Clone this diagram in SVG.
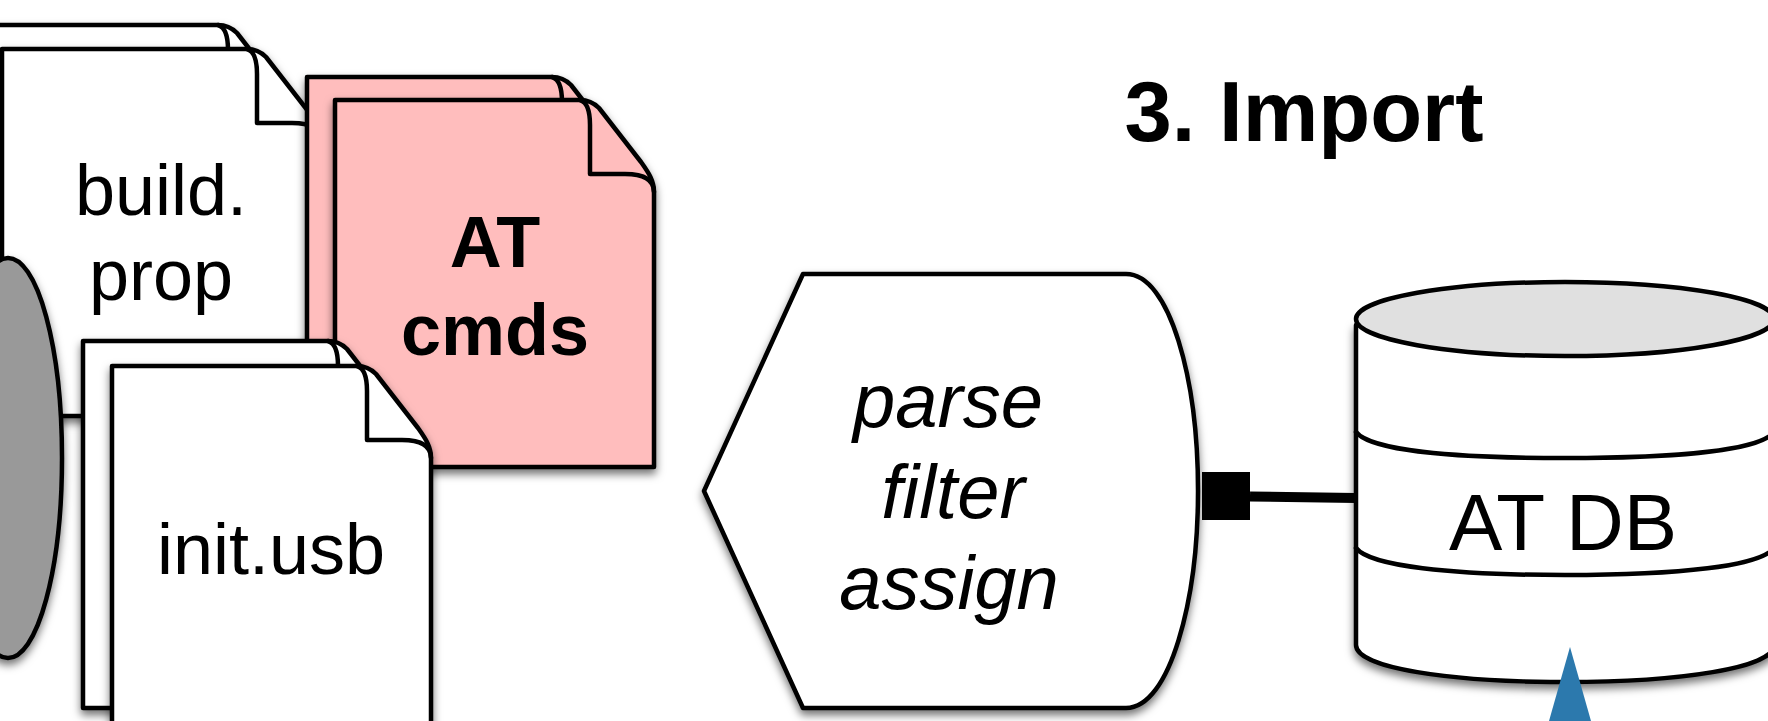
<svg xmlns="http://www.w3.org/2000/svg" xmlns:xlink="http://www.w3.org/1999/xlink" width="1768" height="721" viewBox="0 0 1768 721">
<style>
.s{stroke:#000;stroke-width:4.5;stroke-linejoin:round;stroke-linecap:round}
.t{font-family:"Liberation Sans",Arial,Helvetica,sans-serif;font-size:72px;fill:#000;text-anchor:middle}
.b{font-weight:700}
.i{font-style:italic;font-size:76px}
.w{fill:#fff}
.p{fill:#ffbdbd}
.n{fill:none}
</style>
<defs>
<filter id="sh" x="-15%" y="-15%" width="130%" height="130%"><feDropShadow dx="0" dy="5" stdDeviation="4.5" flood-color="#000" flood-opacity="0.55"/></filter>
<path id="body" d="M0,0H245C252,0 258,2 264,8L306,62C313,72 319,80 319,92V367H0Z"/>
<path id="fold" d="M245,0C252,2 255,10 255,25V74H290C305,74 319,78 319,92"/>
</defs>
<rect width="1768" height="721" fill="#fff"/>
<g id="build-prop">
<g transform="translate(-27,25)"><use href="#body" class="s w" filter="url(#sh)"/><use href="#fold" class="s n"/></g>
<g transform="translate(2,49)"><use href="#body" class="s w" filter="url(#sh)"/><use href="#fold" class="s n"/></g>
<text class="t" x="161" y="215">build.</text>
<text class="t" x="161" y="300">prop</text>
</g>
<g id="at-cmds">
<g transform="translate(307,77)"><use href="#body" class="s p" filter="url(#sh)"/><use href="#fold" class="s n"/></g>
<g transform="translate(335,100)"><use href="#body" class="s p" filter="url(#sh)"/><use href="#fold" class="s n"/></g>
<text class="t b" x="495" y="267">AT</text>
<text class="t b" x="495" y="355">cmds</text>
</g>
<g id="grey-ellipse"><ellipse class="s" cx="8" cy="458" rx="54" ry="200" fill="#999" filter="url(#sh)"/></g>
<g id="init-usb">
<g transform="translate(83,341)"><use href="#body" class="s w" filter="url(#sh)"/><use href="#fold" class="s n"/></g>
<g transform="translate(112,366)"><use href="#body" class="s w" filter="url(#sh)"/><use href="#fold" class="s n"/></g>
<text class="t" x="271" y="574">init.usb</text>
</g>
<text id="title" class="t b" style="font-size:85px" x="1304" y="141">3. Import</text>
<g id="process">
<path class="s w" filter="url(#sh)" d="M704,491L803,274H1126C1170,274 1198,380 1198,491C1198,600 1170,708 1126,708H803Z"/>
<text class="t i" x="948" y="427">parse</text>
<text class="t i" x="953" y="518">filter</text>
<text class="t i" x="949" y="609">assign</text>
</g>
<g id="at-db">
<path class="s w" filter="url(#sh)" d="M1356,325V645C1356,668 1450,682 1565,682C1680,682 1774,668 1774,645V325Z"/>
<ellipse class="s" cx="1565" cy="319" rx="209" ry="37" fill="#e0e0e0"/>
<path class="s n" d="M1356,432C1370,450 1450,458 1565,458C1680,458 1760,450 1774,432"/>
<path class="s n" d="M1356,548C1370,566 1450,575 1565,575C1680,575 1760,566 1774,548"/>
<text class="t" style="font-size:80px" x="1563" y="550">AT DB</text>
</g>
<g id="connectors">
<rect x="1202" y="472" width="48" height="48"/>
<path d="M1250,496.500L1356,498" stroke="#000" stroke-width="10" fill="none"/>
<path d="M1570,647L1591,721H1549Z" fill="#2c79ad"/>
</g>
</svg>
